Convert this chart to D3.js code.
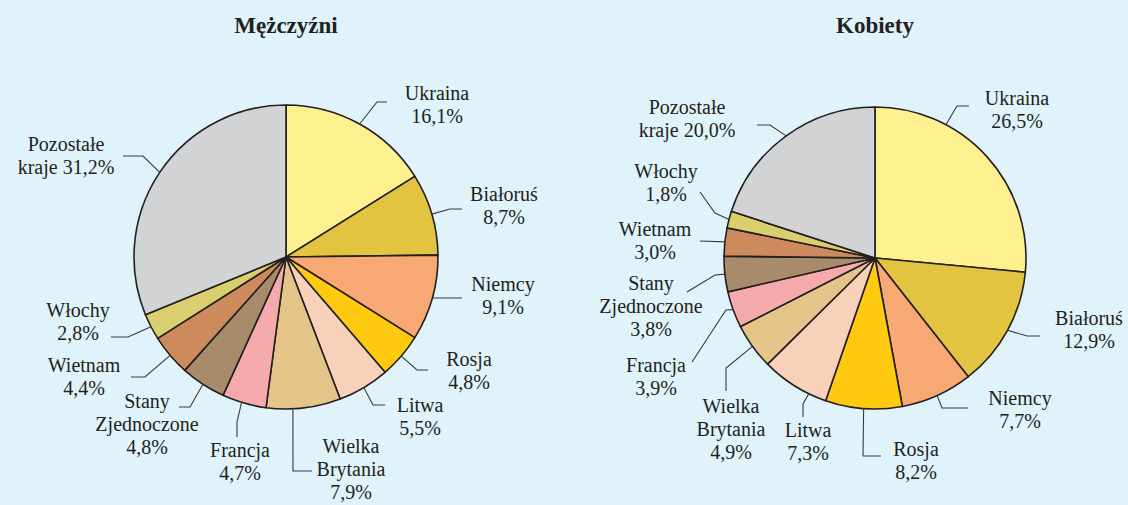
<!DOCTYPE html>
<html>
<head>
<meta charset="utf-8">
<script src="https://cdn.jsdelivr.net/npm/d3@7"></script>
</head>
<body style="margin:0;padding:0;background:#e0f2fa">
<svg id="pies" width="1128" height="505" style="display:block"></svg>
<script>
// Countries, in drawing order (clockwise from 12 o'clock)
const categories = [
  "Ukraina", "Białoruś", "Niemcy", "Rosja", "Litwa", "Wielka\nBrytania",
  "Francja", "Stany\nZjednoczone", "Wietnam", "Włochy", "Pozostałe\nkraje"
];
// Shares in percent
const menValues   = [16.1, 8.7, 9.1, 4.8, 5.5, 7.9, 4.7, 4.8, 4.4, 2.8, 31.2];
const womenValues = [26.5, 12.9, 7.7, 8.2, 7.3, 4.9, 3.9, 3.8, 3.0, 1.8, 20.0];
const titles = ["Mężczyźni", "Kobiety"];

const colors = [
  "#fff08f", "#e3c441", "#f8a973", "#fec90f", "#f9d0b9", "#e4c488",
  "#f5aaac", "#a78b6a", "#cd8b5d", "#dacf6f", "#d2d3d5"
];

const FONT = "'Liberation Serif', 'Times New Roman', serif";

// Label layout, relative to each pie's centre:
// ang = leader start angle override (deg), pts = leader bend points,
// tx/ty = text centre x / first baseline, inline = percent on the last name line
const menLabels = [
  { pts: [[91, -155], [101, -155]], tx: 151, ty: -157 },
  { pts: [[164, -48], [176, -48]], tx: 218, ty: -56 },
  { pts: [[164, 41], [176, 41]], tx: 217, ty: 34 },
  { pts: [[131, 113], [142, 113]], tx: 183, ty: 109 },
  { pts: [[87, 148], [99, 148]], tx: 134, ty: 155 },
  { ang: 177.4, pts: [[7, 214], [26, 214]], tx: 65, ty: 196 },
  { ang: 197, pts: [[-49, 165], [-49, 180]], tx: -46, ty: 200 },
  { pts: [[-96, 150], [-107, 150]], tx: -139, ty: 151 },
  { pts: [[-141, 120], [-155, 120]], tx: -202, ty: 115 },
  { pts: [[-158, 80], [-175, 80]], tx: -208, ty: 60 },
  { pts: [[-143, -101], [-163, -101]], tx: -220, ty: -106, inline: true }
];
const womenLabels = [
  { ang: 28, pts: [[82, -152], [94, -152]], tx: 142, ty: -153 },
  { pts: [[152, 78], [165, 78]], tx: 214, ty: 67 },
  { pts: [[67, 150], [93, 150]], tx: 145, ty: 147 },
  { pts: [[-12, 198], [6, 198]], tx: 41, ty: 198 },
  { ang: 206, pts: [[-72, 146], [-72, 159]], tx: -67, ty: 179 },
  { pts: [[-149, 110], [-149, 133]], tx: -144, ty: 155 },
  { pts: [[-149, 52], [-183, 104]], tx: -219, ty: 114 },
  { pts: [[-160, 17], [-188, 34]], tx: -224, ty: 32 },
  { pts: [[-175, -17]], tx: -220, ty: -22 },
  { pts: [[-160, -45], [-175, -66]], tx: -209, ty: -80 },
  { pts: [[-105, -133], [-118, -133]], tx: -188, ty: -144, inline: true }
];

const pies = [
  { title: titles[0], values: menValues, labels: menLabels, cx: 286, cy: 257, r: 152 },
  { title: titles[1], values: womenValues, labels: womenLabels, cx: 875, cy: 258, r: 151 }
];

const svg = d3.select("#pies");
const fmt = v => v.toFixed(1).replace(".", ",") + "%";
const lineH = 23;

const pieGen = d3.pie().sort(null).value(d => d.value).startAngle(0).endAngle(2 * Math.PI);

pies.forEach(p => {
  const data = categories.map((c, i) => ({ name: c, value: p.values[i], color: colors[i], lab: p.labels[i] }));
  const arcs = pieGen(data);
  const arc = d3.arc().innerRadius(0).outerRadius(p.r);

  const g = svg.append("g").attr("transform", `translate(${p.cx},${p.cy})`);

  // title
  svg.append("text")
    .attr("x", p.cx).attr("y", 33)
    .attr("text-anchor", "middle")
    .style("font-family", FONT)
    .style("font-size", "23px")
    .style("font-weight", "bold")
    .style("fill", "#231f20")
    .text(p.title);

  // slices
  g.selectAll("path.slice").data(arcs).join("path")
    .attr("class", "slice")
    .attr("d", arc)
    .attr("fill", d => d.data.color)
    .attr("stroke", "#231f20")
    .attr("stroke-width", 1.6)
    .attr("stroke-linejoin", "round");

  // leader lines
  const line = d3.line();
  g.selectAll("path.leader").data(arcs).join("path")
    .attr("class", "leader")
    .attr("d", d => {
      const a = d.data.lab.ang != null ? d.data.lab.ang * Math.PI / 180 : (d.startAngle + d.endAngle) / 2;
      const start = [p.r * Math.sin(a), -p.r * Math.cos(a)];
      return line([start, ...d.data.lab.pts]);
    })
    .attr("fill", "none")
    .attr("stroke", "#3a3a3a")
    .attr("stroke-width", 1.1);

  // labels, one text element per line
  arcs.forEach(d => {
    const parts = d.data.name.split("\n");
    const pct = fmt(d.data.value);
    const lines = d.data.lab.inline
      ? [...parts.slice(0, -1), parts[parts.length - 1] + " " + pct]
      : [...parts, pct];
    lines.forEach((t, i) => {
      g.append("text")
        .attr("x", d.data.lab.tx)
        .attr("y", d.data.lab.ty + i * lineH)
        .attr("text-anchor", "middle")
        .style("font-family", FONT)
        .style("font-size", "20px")
        .style("fill", "#231f20")
        .text(t);
    });
  });
});
</script>
</body>
</html>
